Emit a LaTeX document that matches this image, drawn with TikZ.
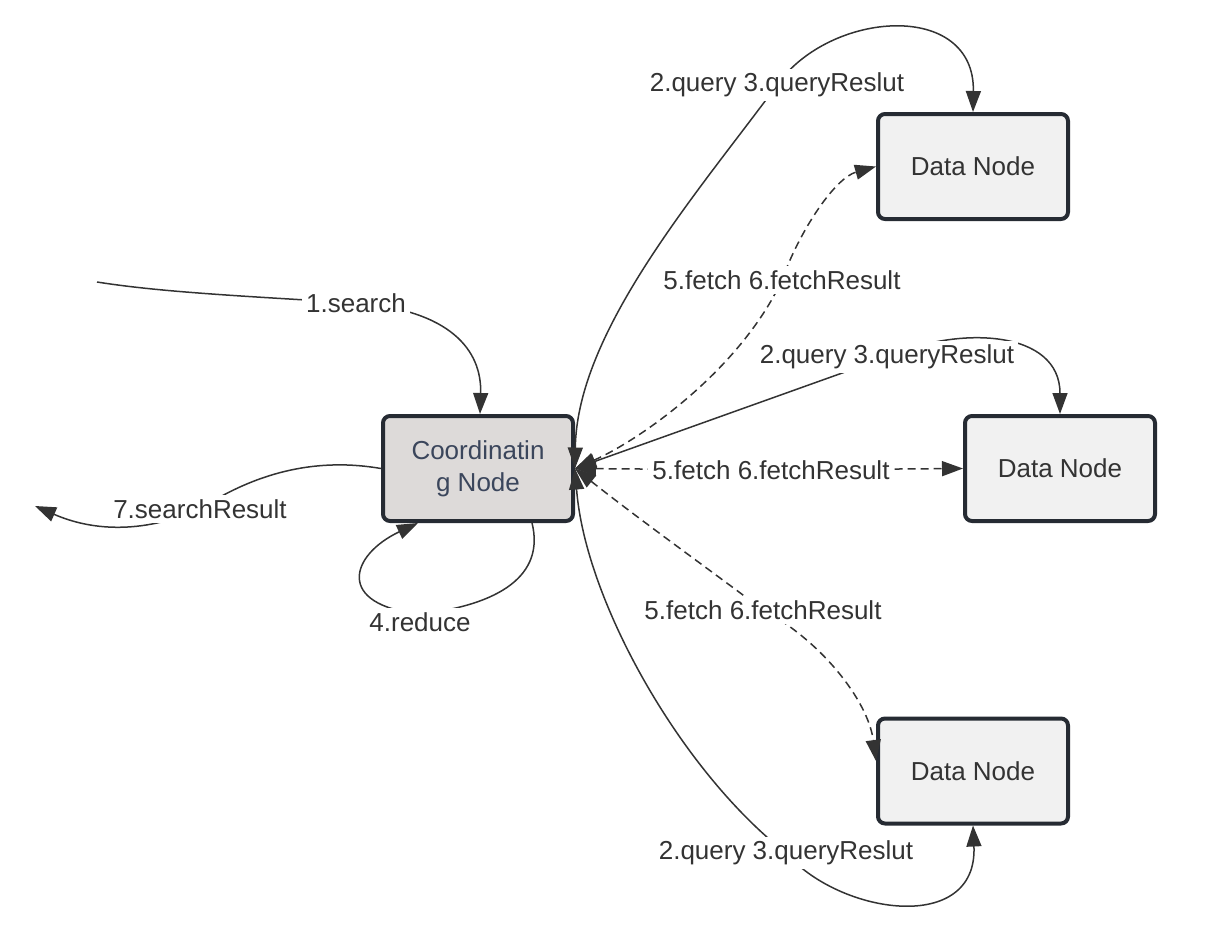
\documentclass[tikz,border=0pt]{standalone}
\usepackage{fontspec}
\setmainfont{Liberation Sans}
\usetikzlibrary{arrows.meta,calc}
\definecolor{ink}{HTML}{333333}
\definecolor{bord}{HTML}{262B33}
\definecolor{coordfill}{HTML}{DDDAD9}
\definecolor{datafill}{HTML}{F1F1F1}
\definecolor{coordtext}{HTML}{3B465C}
\begin{document}
\begin{tikzpicture}[x=1pt,y=-1pt,
  >={Triangle[length=21pt,width=15pt]},
  box/.style={draw=bord, line width=4pt, rounded corners=7pt, minimum width=190pt,
    minimum height=105pt, inner sep=0pt, align=center, text=ink,
    font=\fontsize{26}{32}\selectfont},
  coordbox/.style={box, fill=coordfill, text=coordtext},
  databox/.style={box, fill=datafill},
  conn/.style={draw=ink, line width=1.5pt},
  dconn/.style={conn, dash pattern=on 8pt off 5pt},
  lbl/.style={fill=white, text=ink, inner sep=4pt, font=\fontsize{26}{30}\selectfont}
]
\useasboundingbox (0,0) rectangle (1216,934);

% nodes
\node[coordbox] (coord) at (478,468.5) {Coordinatin\\g Node};
\node[databox] (d1) at (973,166.5) {Data Node};
\node[databox] (d2) at (1060,468.5) {Data Node};
\node[databox] (d3) at (973,771) {Data Node};

% label anchor points
\coordinate (l1) at (356,303);
\coordinate (l7) at (200,509);
\coordinate (l4) at (420,614);
\coordinate (lq1) at (777,85);
\coordinate (lf1) at (782,280);
\coordinate (lq2) at (887,357);
\coordinate (lf2) at (771,470);
\coordinate (lf3) at (763,610);
\coordinate (lq3) at (786,853);
\coordinate (s0) at (97,282);
\coordinate (r7) at (35,506);

% 1.search
\draw[conn,->] (s0) .. controls (160,292) and (240,296) .. (l1)
  .. controls (450,310) and (482,350) .. ([xshift=2pt]coord.north);
% 7.searchResult
\draw[conn,->] (coord.west) .. controls (320,458) and (260,470) .. (l7)
  .. controls (140,535) and (90,530) .. (r7);
% 4.reduce
\draw[conn,->] ([xshift=54pt]coord.south) .. controls (545,575) and (500,605) .. (l4)
  .. controls (335,605) and (350,555) .. ([xshift=-60pt]coord.south);

% top query
\draw[conn,<->] (coord.east) .. controls (577,330) and (700,190) .. (lq1)
  .. controls (830,10) and (975,0) .. (d1.north);
% middle query
\draw[conn,<->] (coord.east) -- (lq2)
  .. controls (960,325) and (1060,330) .. (d2.north);
% bottom query
\draw[conn,<->] (coord.east) .. controls (585,600) and (680,770) .. (lq3)
  .. controls (840,915) and (978,935) .. (d3.south);

% top fetch
\draw[dconn,<->] (coord.east) .. controls (640,440) and (740,370) .. (lf1)
  .. controls (800,230) and (835,178) .. (d1.west);
% middle fetch
\draw[dconn,<->] (coord.east) -- (lf2) -- (d2.west);
% bottom fetch
\draw[dconn,<->] (coord.east) .. controls (640,520) and (710,570) .. (lf3)
  .. controls (820,640) and (868,700) .. ([yshift=10pt]d3.west);

% labels
\node[lbl] (t1) at (l1) {1.search};
\node[lbl] (t7) at (l7) {7.searchResult};
\node[lbl] (t4) at (420,622) {4.reduce};
\node[lbl] (tq1) at (lq1) {2.query 3.queryReslut};
\node[lbl] (tf1) at (lf1) {5.fetch 6.fetchResult};
\node[lbl] (tq2) at (lq2) {2.query 3.queryReslut};
\node[lbl] (tf2) at (lf2) {5.fetch 6.fetchResult};
\node[lbl] (tf3) at (lf3) {5.fetch 6.fetchResult};
\node[lbl] (tq3) at (lq3) {2.query 3.queryReslut};
\end{tikzpicture}
\end{document}
